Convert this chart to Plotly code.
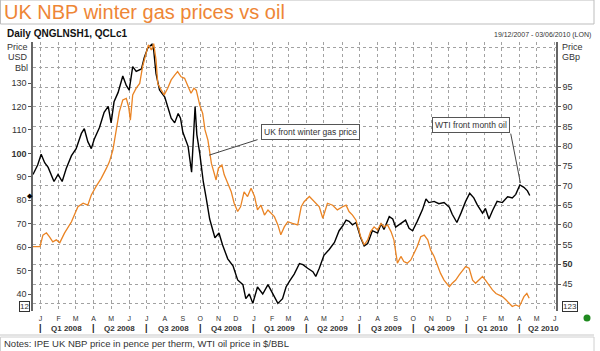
import plotly.graph_objects as go

# ---------------- data ----------------
wti_dates = ["2007-12-19","2007-12-27","2008-01-02","2008-01-08","2008-01-14","2008-01-19","2008-01-24","2008-01-31",
 "2008-02-07","2008-02-14","2008-02-23","2008-03-02","2008-03-11","2008-03-16","2008-03-22","2008-03-28",
 "2008-04-02","2008-04-11","2008-04-19","2008-04-26","2008-05-01","2008-05-06","2008-05-13","2008-05-21",
 "2008-05-27","2008-06-01","2008-06-07","2008-06-13","2008-06-22","2008-06-27","2008-07-03","2008-07-10",
 "2008-07-13","2008-07-17","2008-07-23","2008-08-01","2008-08-07","2008-08-12","2008-08-18","2008-08-24",
 "2008-08-28","2008-09-01","2008-09-10","2008-09-16","2008-09-22","2008-09-25","2008-09-30","2008-10-06",
 "2008-10-11","2008-10-17","2008-10-26","2008-11-02","2008-11-08","2008-11-17","2008-11-26","2008-12-04",
 "2008-12-13","2008-12-18","2008-12-24","2008-12-30","2009-01-07","2009-01-16","2009-01-25","2009-02-02",
 "2009-02-11","2009-02-19","2009-02-25","2009-03-03","2009-03-11","2009-03-20","2009-03-26","2009-04-03",
 "2009-04-12","2009-04-17","2009-04-23","2009-05-01","2009-05-10","2009-05-19","2009-05-27","2009-06-02",
 "2009-06-08","2009-06-13","2009-06-19","2009-06-25","2009-07-03","2009-07-09","2009-07-15","2009-07-23",
 "2009-08-01","2009-08-07","2009-08-12","2009-08-21","2009-08-27","2009-09-01","2009-09-10","2009-09-18",
 "2009-09-24","2009-09-30","2009-10-08","2009-10-17","2009-10-23","2009-10-28","2009-11-06","2009-11-14",
 "2009-11-23","2009-12-02","2009-12-07","2009-12-15","2009-12-22","2009-12-30","2010-01-06","2010-01-13",
 "2010-01-19","2010-01-28","2010-02-02","2010-02-08","2010-02-14","2010-02-22","2010-03-03","2010-03-12",
 "2010-03-20","2010-03-26","2010-04-02","2010-04-09","2010-04-15","2010-04-19"]
wti_values = [91.0,95.0,99.6,96.0,94.0,91.0,88.0,91.0,
 88.0,93.5,99.0,102.0,108.5,110.5,105.0,102.0,
 106.0,111.0,117.5,120.0,113.0,122.0,126.0,133.0,
 129.0,127.0,137.0,135.0,136.0,141.0,145.0,146.5,
 144.0,134.0,127.0,124.0,119.5,115.0,113.0,117.0,
 115.0,109.0,103.0,92.0,120.0,108.0,100.0,88.0,
 81.0,72.0,64.0,66.0,61.0,55.0,52.0,46.0,
 44.0,38.0,40.0,36.0,43.0,40.0,44.0,40.0,
 36.0,38.0,43.0,45.5,48.5,53.0,52.5,51.0,
 49.5,47.5,51.0,56.5,59.0,62.0,67.0,69.0,
 71.5,71.0,69.5,70.5,64.0,60.5,61.5,67.0,
 66.0,70.0,67.5,73.0,72.0,68.5,70.0,71.5,
 68.0,67.0,71.0,76.0,80.5,79.0,79.5,78.5,
 79.0,77.0,74.0,70.5,74.5,79.5,83.0,81.0,
 78.0,74.5,76.5,72.0,75.5,79.5,79.0,81.5,
 81.0,82.5,86.5,85.5,84.0,82.0]

gas_dates = ["2007-12-19","2007-12-31","2008-01-05","2008-01-11","2008-01-16","2008-01-22","2008-01-28","2008-02-03",
 "2008-02-11","2008-02-23","2008-03-05","2008-03-14","2008-03-22","2008-03-28","2008-04-05","2008-04-14",
 "2008-04-23","2008-04-28","2008-05-04","2008-05-10","2008-05-15","2008-05-21","2008-05-27","2008-05-31",
 "2008-06-03","2008-06-07","2008-06-13","2008-06-19","2008-06-24","2008-06-30","2008-07-04","2008-07-09",
 "2008-07-13","2008-07-17","2008-07-20","2008-07-26","2008-07-31","2008-08-06","2008-08-12","2008-08-18",
 "2008-08-23","2008-08-29","2008-09-04","2008-09-10","2008-09-15","2008-09-20","2008-09-24","2008-09-30",
 "2008-10-05","2008-10-09","2008-10-14","2008-10-20","2008-10-24","2008-10-28","2008-11-01","2008-11-07",
 "2008-11-11","2008-11-17","2008-11-23","2008-11-28","2008-12-04","2008-12-09","2008-12-15","2008-12-21",
 "2008-12-27","2009-01-02","2009-01-07","2009-01-13","2009-01-19","2009-01-25","2009-01-30","2009-02-05",
 "2009-02-11","2009-02-16","2009-02-22","2009-02-28","2009-03-08","2009-03-17","2009-03-23","2009-03-28",
 "2009-04-06","2009-04-14","2009-04-23","2009-04-29","2009-05-07","2009-05-16","2009-05-24","2009-06-02",
 "2009-06-08","2009-06-13","2009-06-19","2009-06-25","2009-07-03","2009-07-09","2009-07-15","2009-07-20",
 "2009-07-26","2009-08-01","2009-08-07","2009-08-12","2009-08-18","2009-08-24","2009-08-29","2009-09-04",
 "2009-09-10","2009-09-15","2009-09-21","2009-09-27","2009-10-03","2009-10-08","2009-10-14","2009-10-20",
 "2009-10-26","2009-10-31","2009-11-06","2009-11-12","2009-11-17","2009-11-23","2009-12-02","2009-12-07",
 "2009-12-13","2009-12-19","2009-12-25","2009-12-30","2010-01-05","2010-01-11","2010-01-16","2010-01-22",
 "2010-01-28","2010-02-02","2010-02-08","2010-02-14","2010-02-20","2010-02-25","2010-03-03","2010-03-09",
 "2010-03-14","2010-03-20","2010-03-26","2010-04-01","2010-04-05","2010-04-09","2010-04-14","2010-04-18"]
gas_values = [54.5,54.5,57.4,58.0,57.0,55.7,56.2,55.5,
 57.9,60.8,64.6,65.5,65.0,67.6,69.7,71.8,
 74.4,76.0,79.0,84.0,88.7,91.7,92.1,90.0,
 86.6,93.0,94.7,95.9,100.2,103.6,105.7,104.4,
 106.0,101.9,95.9,94.2,93.0,94.7,96.8,98.0,
 98.9,97.6,97.2,95.1,93.4,94.7,94.2,90.4,
 88.3,84.1,81.5,75.6,73.1,71.4,74.4,75.2,
 72.7,70.6,68.4,65.5,63.4,64.6,68.4,67.2,
 69.3,67.2,63.8,65.0,62.5,63.8,62.9,62.1,
 60.0,57.5,59.5,60.8,60.4,60.0,64.6,65.9,
 67.2,65.9,64.6,61.7,65.5,65.0,63.8,64.6,
 65.0,63.4,62.5,61.2,57.0,54.9,56.2,58.3,
 59.5,58.7,60.4,59.5,60.0,58.3,56.2,50.3,
 52.0,50.7,50.3,51.1,52.8,54.5,57.0,57.4,
 56.2,53.6,52.0,49.4,47.7,46.0,44.3,45.2,
 46.0,47.3,48.6,49.4,49.0,46.0,45.2,46.0,
 46.9,46.0,44.7,43.5,42.6,42.2,41.8,41.0,
 40.1,39.3,39.7,39.3,40.5,41.8,42.6,41.4]

month_ticks = ["2008-%02d-01" % m for m in range(1, 13)] + ["2009-%02d-01" % m for m in range(1, 13)] + \
              ["2010-%02d-01" % m for m in range(1, 7)]
month_letters = list("JFMAMJJASOND") * 2 + list("JFMAMJ")
quarter_labels = ["Q1 2008", "Q2 2008", "Q3 2008", "Q4 2008", "Q1 2009", "Q2 2009",
                  "Q3 2009", "Q4 2009", "Q1 2010", "Q2 2010"]
quarter_centers = ["2008-02-14", "2008-05-16", "2008-08-16", "2008-11-15", "2009-02-14", "2009-05-16",
                   "2009-08-16", "2009-11-15", "2010-02-14", "2010-05-12"]
quarter_starts = ["2008-01-01", "2008-04-01", "2008-07-01", "2008-10-01", "2009-01-01", "2009-04-01",
                  "2009-07-01", "2009-10-01", "2010-01-01", "2010-04-01"]
left_ticks = [40, 50, 60, 70, 80, 90, 100, 110, 120, 130]
right_ticks = [45, 50, 55, 60, 65, 70, 75, 80, 85, 90, 95]

# ---------------- layout helpers ----------------
W, H = 600, 351
PL, PR, PT, PB = 33, 556, 42, 311
def fx(px): return (px - PL) / (PR - PL)
def fy(py): return (PB - py) / (PB - PT)

FONT = "Arial, Liberation Sans, sans-serif"
TXT = "#333333"
GRID = "#a2a2a2"
ORANGE = "#EA8424"

fig = go.Figure()
fig.add_trace(go.Scatter(x=gas_dates, y=gas_values, yaxis="y2", mode="lines",
                         line=dict(color=ORANGE, width=1.3), name="UK gas", showlegend=False))
fig.add_trace(go.Scatter(x=wti_dates, y=wti_values, yaxis="y", mode="lines",
                         line=dict(color="#000000", width=1.4), name="WTI", showlegend=False))

ann = []
# title & header
ann.append(dict(text="UK NBP winter gas prices vs oil", x=fx(2), y=fy(12), xanchor="left", yanchor="middle",
                font=dict(family=FONT, size=20, color="#EE8636")))
ann.append(dict(text="<b>Daily QNGLNSH1, QCLc1</b>", x=fx(5), y=fy(33), xanchor="left", yanchor="middle",
                font=dict(family=FONT, size=10, color="#111111")))
ann.append(dict(text="19/12/2007 - 03/06/2010 (LON)", x=fx(593), y=fy(35), xanchor="right", yanchor="middle",
                font=dict(family=FONT, size=7, color=TXT)))
# axis titles
for t, py in [("Price", 47), ("USD", 57), ("Bbl", 68)]:
    ann.append(dict(text=t, x=fx(30), y=fy(py), xanchor="right", yanchor="middle",
                    font=dict(family=FONT, size=9, color=TXT)))
for t, py in [("Price", 47), ("GBp", 57)]:
    ann.append(dict(text=t, x=fx(560), y=fy(py), xanchor="left", yanchor="middle",
                    font=dict(family=FONT, size=9, color=TXT)))
# quarter row
for lab, c in zip(quarter_labels, quarter_centers):
    ann.append(dict(text="<b>" + lab + "</b>", x=c, xref="x", y=fy(328), xanchor="center", yanchor="middle",
                    font=dict(family=FONT, size=8, color=TXT)))
for s in quarter_starts:
    ann.append(dict(text="<b>|</b>", x=s, xref="x", y=fy(328), xanchor="center", yanchor="middle",
                    font=dict(family=FONT, size=9, color="#222")))
# notes
ann.append(dict(text="Notes: IPE UK NBP price in pence per therm, WTI oil price in $/BBL", x=fx(2), y=fy(343),
                xanchor="left", yanchor="middle", font=dict(family=FONT, size=9.5, color=TXT)))
# small value boxes
ann.append(dict(text="12", x=fx(24), y=fy(306), xanchor="center", yanchor="middle",
                font=dict(family=FONT, size=8, color=TXT), bordercolor="#333", borderwidth=1, borderpad=0))
ann.append(dict(text="123", x=fx(570), y=fy(306), xanchor="center", yanchor="middle",
                font=dict(family=FONT, size=8, color=TXT), bordercolor="#333", borderwidth=1, borderpad=0))
# last-value marker on left axis
ann.append(dict(text="◆", x=fx(30), y=wti_values[-1], yref="y", xanchor="center", yanchor="middle",
                font=dict(family=FONT, size=7, color="#000")))
# callouts
ann.append(dict(text="UK front winter gas price", x=fx(310.5), y=fy(132), xanchor="center", yanchor="middle",
                font=dict(family=FONT, size=8.5, color=TXT), bordercolor="#555", borderwidth=1, borderpad=2,
                bgcolor="white"))
ann.append(dict(text="", x="2008-10-16", xref="x", y=77.7, yref="y2", showarrow=True, arrowhead=0,
                arrowwidth=1, arrowcolor="#444", ax=50, ay=-16))
ann.append(dict(text="WTI front month oil", x=fx(470.5), y=fy(125), xanchor="center", yanchor="middle",
                font=dict(family=FONT, size=8.5, color=TXT), bordercolor="#555", borderwidth=1, borderpad=2,
                bgcolor="white"))
ann.append(dict(text="", x="2010-04-03", xref="x", y=87.3, yref="y", showarrow=True, arrowhead=0,
                arrowwidth=1, arrowcolor="#444", ax=-10, ay=-51))

for a in ann:
    a.setdefault("xref", "paper")
    a.setdefault("yref", "paper")
    a.setdefault("showarrow", False)

shapes = [
    dict(type="rect", xref="paper", yref="paper", x0=fx(0.5), x1=fx(594), y0=fy(0), y1=fy(24),
         line=dict(color="#bdbdbd", width=1)),
    dict(type="line", xref="paper", yref="paper", x0=fx(0), x1=fx(594), y0=fy(335), y1=fy(335),
         line=dict(color="#c8c8c8", width=1)),
    dict(type="rect", xref="paper", yref="paper", x0=fx(0.5), x1=fx(594), y0=fy(337), y1=fy(360),
         line=dict(color="#d0d0d0", width=1)),
    dict(type="circle", xref="paper", yref="paper", x0=fx(583.5), x1=fx(590.5), y0=fy(314.5), y1=fy(321.5),
         fillcolor="#1f8a1f", line=dict(color="#1f8a1f", width=0)),
]

fig.update_layout(
    width=W, height=H, autosize=False,
    margin=dict(l=PL, r=W - PR, t=PT, b=H - PB, pad=0),
    paper_bgcolor="white", plot_bgcolor="white",
    showlegend=False,
    annotations=ann, shapes=shapes,
    xaxis=dict(type="date", range=["2007-12-19", "2010-06-03"], tickmode="array",
               tickvals=month_ticks, ticktext=month_letters, ticks="", showline=False, zeroline=False,
               showgrid=True, gridcolor=GRID, griddash="dot", gridwidth=1, ticklabelstandoff=2,
               tickfont=dict(family=FONT, size=7, color=TXT), tickangle=0),
    yaxis=dict(range=[32.75, 147.5], tickmode="array", tickvals=left_ticks,
               ticktext=["<b>%d</b>" % v if v == 100 else str(v) for v in left_ticks],
               ticks="outside", ticklen=3, tickcolor="#555", showline=True, linecolor="#666", linewidth=1.5,
               showgrid=False, zeroline=False, tickfont=dict(family=FONT, size=9, color=TXT)),
    yaxis2=dict(range=[38.15, 106.42], overlaying="y", side="right", tickmode="array", tickvals=right_ticks,
                ticktext=["<b>%d</b>" % v if v == 50 else str(v) for v in right_ticks],
                ticks="outside", ticklen=3, tickcolor="#555", showline=True, linecolor="#666", linewidth=1.5,
                showgrid=True, gridcolor=GRID, griddash="dot", gridwidth=1, zeroline=False,
                minor=dict(tickmode="linear", tick0=0, dtick=5, showgrid=True, gridcolor=GRID,
                           griddash="dot", gridwidth=1, ticks=""),
                tickfont=dict(family=FONT, size=9, color=TXT)),
)

fig.write_html("out.html")
